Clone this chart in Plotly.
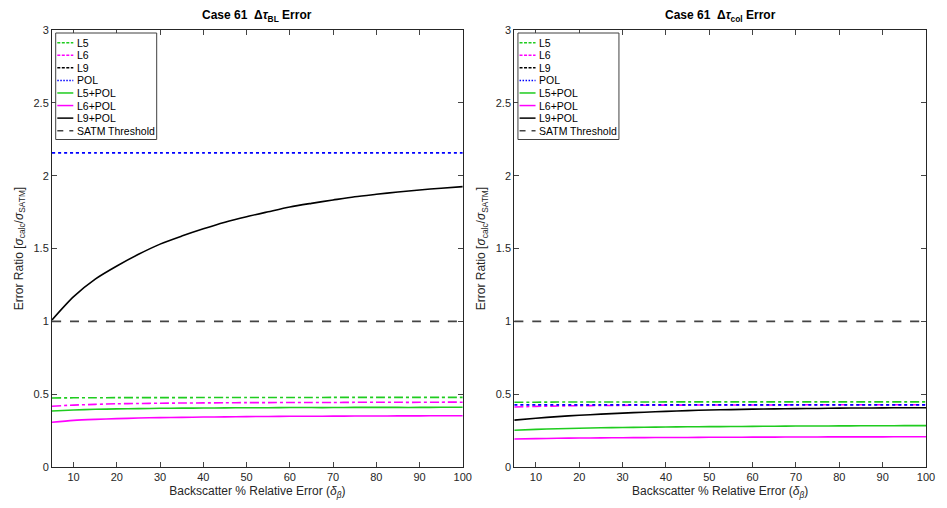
import plotly.graph_objects as go

# Backscatter % relative error (delta_beta)
x = [5, 10, 15, 20, 25, 30, 35, 40, 45, 50, 55, 60, 65, 70, 75, 80, 85, 90, 95, 100]

# Panel 1: Delta tau_BL error ratios
bl_L5 = [0.474, 0.475, 0.475, 0.476, 0.476, 0.476, 0.476, 0.477, 0.477, 0.477,
         0.477, 0.477, 0.477, 0.478, 0.478, 0.478, 0.478, 0.478, 0.478, 0.478]
bl_L6 = [0.417, 0.425, 0.430, 0.434, 0.436, 0.438, 0.439, 0.440, 0.441, 0.442,
         0.442, 0.443, 0.443, 0.443, 0.444, 0.444, 0.444, 0.444, 0.445, 0.445]
bl_L9 = [3.2] * 20
bl_POL = [2.157] * 20
bl_L5POL = [0.384, 0.391, 0.396, 0.399, 0.401, 0.403, 0.404, 0.405, 0.406, 0.407,
            0.407, 0.408, 0.408, 0.408, 0.409, 0.409, 0.409, 0.409, 0.410, 0.410]
bl_L6POL = [0.307, 0.320, 0.327, 0.332, 0.336, 0.339, 0.341, 0.343, 0.344, 0.346,
            0.347, 0.348, 0.348, 0.349, 0.350, 0.350, 0.351, 0.351, 0.352, 0.352]
bl_L9POL = [1.010, 1.170, 1.290, 1.380, 1.460, 1.530, 1.585, 1.635, 1.680, 1.718,
            1.752, 1.785, 1.810, 1.833, 1.855, 1.872, 1.888, 1.902, 1.914, 1.925]

# Panel 2: Delta tau_col error ratios
col_L5 = [0.445, 0.445, 0.446, 0.446, 0.446, 0.446, 0.446, 0.447, 0.447, 0.447,
          0.447, 0.447, 0.447, 0.447, 0.447, 0.447, 0.447, 0.447, 0.447, 0.447]
col_L6 = [0.412, 0.416, 0.419, 0.421, 0.422, 0.423, 0.424, 0.425, 0.425, 0.426,
          0.426, 0.426, 0.426, 0.427, 0.427, 0.427, 0.427, 0.427, 0.427, 0.427]
col_L9 = [3.2] * 20
col_POL = [0.426] * 20
col_L5POL = [0.252, 0.258, 0.263, 0.266, 0.269, 0.271, 0.273, 0.275, 0.276, 0.277,
             0.278, 0.279, 0.280, 0.281, 0.281, 0.282, 0.283, 0.283, 0.284, 0.284]
col_L6POL = [0.192, 0.195, 0.197, 0.199, 0.200, 0.201, 0.202, 0.203, 0.203, 0.204,
             0.204, 0.205, 0.205, 0.206, 0.206, 0.207, 0.207, 0.207, 0.208, 0.208]
col_L9POL = [0.322, 0.335, 0.346, 0.355, 0.363, 0.370, 0.376, 0.382, 0.387, 0.391,
             0.394, 0.397, 0.399, 0.401, 0.402, 0.404, 0.405, 0.406, 0.407, 0.407]

threshold = [1.0] * 20

names = ["L5", "L6", "L9", "POL", "L5+POL", "L6+POL", "L9+POL", "SATM Threshold"]
GREEN, MAGENTA, BLUE, BLACK, GRAY = "#1fcc1f", "#ff00ff", "#0000ff", "#000000", "#444444"
styles = [
    (GREEN, "dashdot"), (MAGENTA, "dashdot"), (BLACK, "dashdot"), (BLUE, "dot"),
    (GREEN, "solid"), (MAGENTA, "solid"), (BLACK, "solid"), (GRAY, "dash"),
]
# dash patterns for the compact legend samples
legend_dash = ["3px,1.5px", "3px,1.5px", "3px,1.5px", "1.5px,1.5px",
               "solid", "solid", "solid", "6px,6px"]

panels = [
    ([bl_L5, bl_L6, bl_L9, bl_POL, bl_L5POL, bl_L6POL, bl_L9POL, threshold], "x", "y"),
    ([col_L5, col_L6, col_L9, col_POL, col_L5POL, col_L6POL, col_L9POL, threshold], "x2", "y2"),
]

fig = go.Figure()
for series, xa, ya in panels:
    for name, ys, (color, dash) in zip(names, series, styles):
        fig.add_trace(go.Scatter(
            x=x, y=ys, name=name, mode="lines", xaxis=xa, yaxis=ya, showlegend=False,
            line=dict(color=color, dash=dash, width=1.6 if dash != "dot" else 1.8,
                      shape="spline", smoothing=0.8),
        ))

FONT = "Liberation Sans, Arial, sans-serif"
AX = "#262626"
ML = 52
MR = 12
W = 947
PW = W - ML - MR
d1 = [0, (467 - ML) / PW]
d2 = [(519 - ML) / PW, 1]

xcommon = dict(range=[5, 100], tickvals=list(range(10, 101, 10)), ticks="inside",
               ticklen=5, mirror="ticks", showline=True, linecolor=AX, linewidth=1,
               showgrid=False, zeroline=False, tickfont=dict(size=11, color=AX),
               title=dict(text="Backscatter % Relative Error (<i>δ</i><sub><i>β</i></sub>)",
                          font=dict(size=12, color=AX), standoff=4))
ycommon = dict(range=[0, 3], tickvals=[0, 0.5, 1, 1.5, 2, 2.5, 3],
               ticktext=["0", "0.5", "1", "1.5", "2", "2.5", "3"], ticks="inside",
               ticklen=5, mirror="ticks", showline=True, linecolor=AX, linewidth=1,
               showgrid=False, zeroline=False, tickfont=dict(size=11, color=AX),
               title=dict(text="Error Ratio [<i>σ</i><sub>calc</sub>/<i>σ</i><sub>SATM</sub>]",
                          font=dict(size=12, color=AX), standoff=7))

# Compact legend boxes drawn in axis-domain coordinates with pixel offsets
shapes = []
annotations = []
BOX_L, BOX_R, BOX_T, BOX_B = 3.7, 104.7, -3, -109.5
ROW0, ROW_STEP = 12.7, 12.57
for xa, ya in [("x", "y"), ("x2", "y2")]:
    xr, yr = f"{xa} domain", f"{ya} domain"
    shapes.append(dict(type="rect", xref=xr, yref=yr, xsizemode="pixel", ysizemode="pixel",
                       xanchor=0, yanchor=1, x0=BOX_L, x1=BOX_R, y0=BOX_T, y1=BOX_B,
                       line=dict(color="#404040", width=1), fillcolor="white", layer="above"))
    for i, (name, (color, _), ld) in enumerate(zip(names, styles, legend_dash)):
        yy = -(ROW0 + i * ROW_STEP)
        shapes.append(dict(type="line", xref=xr, yref=yr, xsizemode="pixel", ysizemode="pixel",
                           xanchor=0, yanchor=1, x0=5.3, x1=21.3, y0=yy, y1=yy,
                           line=dict(color=color, width=1.5, dash=ld), layer="above"))
        annotations.append(dict(text=name, xref=xr, yref=yr, x=0, y=1, xshift=22.7, yshift=yy,
                                xanchor="left", yanchor="middle", showarrow=False,
                                font=dict(size=10.5, color="#000", family=FONT)))

annotations += [
    dict(text="<b>Case 61  Δ<i>τ</i><sub>BL</sub> Error</b>", xref="paper", yref="paper",
         x=(d1[0] + d1[1]) / 2, y=1, yshift=4, xanchor="center", yanchor="bottom",
         showarrow=False, font=dict(size=12, color="#000", family=FONT)),
    dict(text="<b>Case 61  Δ<i>τ</i><sub>col</sub> Error</b>", xref="paper", yref="paper",
         x=(d2[0] + d2[1]) / 2, y=1, yshift=4, xanchor="center", yanchor="bottom",
         showarrow=False, font=dict(size=12, color="#000", family=FONT)),
]

fig.update_layout(
    width=W, height=508,
    margin=dict(l=ML, r=MR, t=30, b=41),
    paper_bgcolor="white", plot_bgcolor="white",
    font=dict(family=FONT, color=AX),
    xaxis=dict(domain=d1, anchor="y", **xcommon),
    yaxis=dict(domain=[0, 1], anchor="x", **ycommon),
    xaxis2=dict(domain=d2, anchor="y2", **xcommon),
    yaxis2=dict(domain=[0, 1], anchor="x2", **ycommon),
    showlegend=False,
    shapes=shapes,
    annotations=annotations,
)

fig.write_html("out.html")
